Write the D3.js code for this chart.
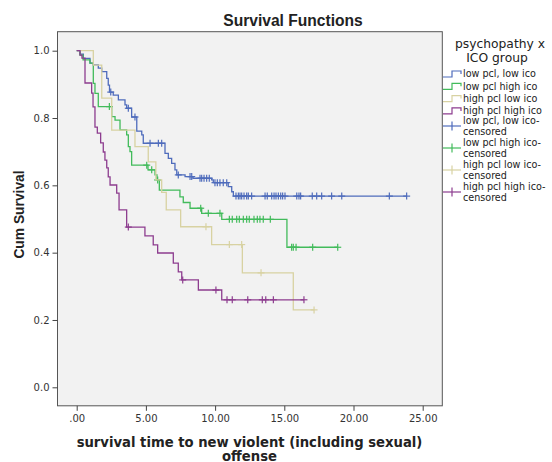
<!DOCTYPE html>
<html><head><meta charset="utf-8">
<script src="https://cdn.jsdelivr.net/npm/d3@7"></script>
<style>body{margin:0;background:#fff}svg{display:block}</style>
</head><body><svg id="c" width="552" height="462" font-family="DejaVu Sans"></svg>
<script>
const groupNames = ["low pcl, low ico","low pcl high ico","high pcl low ico","high pcl high ico"];
const censoredNames = ["low pcl, low ico-","low pcl high ico-","high pcl low ico-","high pcl high ico-"];
const groupColors = ["#4f6cbc","#42bb5b","#d8d2a2","#8d3d8f"];
const xTickValues = [0,5,10,15,20,25];
const xTickLabels = [".00","5.00","10.00","15.00","20.00","25.00"];
const yTickValues = [0,0.2,0.4,0.6,0.8,1.0];
const yTickLabels = ["0.0","0.2","0.4","0.6","0.8","1.0"];

const blueTimes = [0.24,0.48,0.96,1.20,1.56,1.81,2.17,2.28,2.37,2.64,3.01,3.49,3.61,3.97,4.34,4.70,4.81,6.38,6.62,6.86,7.10,7.23,7.83,8.40,9.75,9.87,10.95,11.20,11.32];
const blueSurv = [0.990,0.977,0.963,0.958,0.948,0.938,0.918,0.898,0.877,0.868,0.854,0.839,0.829,0.803,0.761,0.750,0.725,0.695,0.680,0.665,0.646,0.631,0.626,0.621,0.616,0.608,0.596,0.581,0.568];
const blueCens = [2.46,3.73,4.21,5.30,5.90,6.14,7.34,8.19,8.31,8.91,9.03,9.20,9.39,9.58,9.99,10.16,10.35,10.59,10.84,11.51,11.68,11.80,11.92,12.09,12.28,12.40,12.64,13.61,13.77,14.09,14.26,14.40,14.57,14.74,14.88,15.05,15.90,16.06,16.18,17.02,17.34,17.70,18.42,19.15,22.59,23.84];

const greenTimes = [0.24,0.46,0.96,1.20,1.32,1.56,2.53,2.77,3.13,3.61,3.73,3.85,3.97,5.15,5.66,5.80,5.97,7.46,7.70,8.19,9.03,10.48,15.19];
const greenSurv = [0.987,0.973,0.963,0.903,0.873,0.834,0.804,0.794,0.765,0.750,0.715,0.700,0.660,0.646,0.631,0.616,0.586,0.566,0.549,0.532,0.517,0.499,0.416];
const greenCens = [2.36,5.06,5.42,5.85,8.96,9.51,10.35,11.03,11.24,11.56,11.75,12.04,12.28,12.47,12.81,13.05,13.24,13.48,13.99,15.53,15.65,15.85,17.05,18.86];

const beigeTimes = [1.20,1.81,2.53,4.21,5.17,5.72,6.14,6.47,7.51,9.75,11.97,15.65];
const beigeSurv = [0.957,0.859,0.764,0.715,0.670,0.616,0.579,0.527,0.477,0.424,0.340,0.230];
const beigeCens = [9.34,11.03,11.92,13.32,17.15];

const purpleTimes = [0.24,0.38,0.60,1.08,1.18,1.32,1.49,1.73,1.92,2.04,2.17,2.28,2.41,2.89,3.06,3.61,4.93,5.53,5.85,6.98,7.34,7.59,8.79,10.48];
const purpleSurv = [0.987,0.978,0.904,0.874,0.833,0.773,0.755,0.726,0.699,0.675,0.652,0.625,0.601,0.577,0.527,0.476,0.450,0.423,0.399,0.369,0.343,0.319,0.289,0.260];
const purpleCens = [3.73,7.66,10.06,10.86,11.24,12.36,13.41,13.66,14.21,16.42];

const groups = [
  {times: blueTimes, surv: blueSurv, cens: blueCens},
  {times: greenTimes, surv: greenSurv, cens: greenCens},
  {times: beigeTimes, surv: beigeSurv, cens: beigeCens},
  {times: purpleTimes, surv: purpleSurv, cens: purpleCens}
];

const svg = d3.select("#c");
const plot = {l:57.5, r:442.3, t:31.7, b:405.8};
const x = d3.scaleLinear().domain([0,25]).range([76.7,422.7]);
const y = d3.scaleLinear().domain([0,1]).range([387.3,50.7]);

svg.append("rect").attr("x",plot.l).attr("y",plot.t).attr("width",plot.r-plot.l).attr("height",plot.b-plot.t)
  .attr("fill","#f2f2f2").attr("stroke","#555").attr("stroke-width",1);

// axes
const xAxis = d3.axisBottom(x).tickValues(xTickValues).tickSize(5).tickPadding(4)
  .tickFormat((d,i)=>xTickLabels[i]);
const gx = svg.append("g").attr("transform",`translate(0,${plot.b})`).call(xAxis);
gx.select(".domain").remove();
gx.selectAll("line").attr("stroke","#444");
gx.selectAll("text").attr("font-size",10).attr("fill","#333").style("font-family","DejaVu Sans");

const yAxis = d3.axisLeft(y).tickValues(yTickValues).tickSize(5).tickPadding(3)
  .tickFormat((d,i)=>yTickLabels[i]);
const gy = svg.append("g").attr("transform",`translate(${plot.l},0)`).call(yAxis);
gy.select(".domain").remove();
gy.selectAll("line").attr("stroke","#444");
gy.selectAll("text").attr("font-size",10).attr("fill","#333").style("font-family","DejaVu Sans");

function survAt(g,t){let s=1;for(let i=0;i<g.times.length;i++){if(g.times[i]<=t)s=g.surv[i];}return s;}

const line = d3.line().x(d=>x(d[0])).y(d=>y(d[1])).curve(d3.curveStepAfter);
groups.forEach((g,gi)=>{
  const end = Math.max(d3.max(g.cens), d3.max(g.times));
  const pts = [[0,1]].concat(g.times.map((t,i)=>[t,g.surv[i]]));
  pts.push([end, g.surv[g.surv.length-1]]);
  svg.append("path").attr("d",line(pts)).attr("fill","none")
    .attr("stroke",groupColors[gi]).attr("stroke-width",1.3);
  const cg = svg.append("g").attr("stroke",groupColors[gi]).attr("stroke-width",1.2);
  g.cens.forEach(t=>{
    const cx=x(t), cy=y(survAt(g,t));
    cg.append("line").attr("x1",cx-3.5).attr("x2",cx+3.5).attr("y1",cy).attr("y2",cy);
    cg.append("line").attr("x1",cx).attr("x2",cx).attr("y1",cy-3.5).attr("y2",cy+3.5);
  });
});

// titles
svg.append("text").attr("x",293).attr("y",26).attr("text-anchor","middle")
  .style("font-family","Liberation Sans").attr("font-size",15.6).attr("font-weight","bold").attr("fill","#222").text("Survival Functions");
svg.append("text").attr("transform","translate(19,214.5) rotate(-90)").attr("text-anchor","middle").attr("dy","0.35em")
  .style("font-family","Liberation Sans").attr("font-size",13.8).attr("font-weight","bold").attr("fill","#222").text("Cum Survival");
svg.append("text").attr("x",249.5).attr("y",447).attr("text-anchor","middle")
  .style("font-family","DejaVu Sans").attr("font-size",13.2).attr("font-weight","bold").attr("fill","#222").text("survival time to new violent (including sexual)");
svg.append("text").attr("x",249.5).attr("y",460.5).attr("text-anchor","middle")
  .style("font-family","DejaVu Sans").attr("font-size",13.2).attr("font-weight","bold").attr("fill","#222").text("offense");

// legend
const lg = svg.append("g").style("font-family","DejaVu Sans");
lg.append("text").attr("x",500).attr("y",44).attr("text-anchor","middle").attr("dy","0.35em")
  .attr("font-size",12.3).attr("fill","#222").text("psychopathy x");
lg.append("text").attr("x",497).attr("y",57.5).attr("text-anchor","middle").attr("dy","0.35em")
  .attr("font-size",12.3).attr("fill","#222").text("ICO group");
const stepY = [74,86.3,98.6,110.9];
groupNames.forEach((n,i)=>{
  const cy = stepY[i];
  lg.append("path").attr("d",`M443,${cy+3}H452V${cy-3}H461V${cy}`).attr("fill","none")
    .attr("stroke",groupColors[i]).attr("stroke-width",1.2);
  lg.append("text").attr("x",463).attr("y",cy).attr("dy","0.35em").attr("font-size",9.6).attr("fill","#222").text(n);
});
const censY = [126,148,170,192];
censoredNames.forEach((n,i)=>{
  const cy = censY[i];
  lg.append("line").attr("x1",443).attr("x2",461).attr("y1",cy).attr("y2",cy).attr("stroke",groupColors[i]).attr("stroke-width",1.2);
  lg.append("line").attr("x1",452).attr("x2",452).attr("y1",cy-4.5).attr("y2",cy+4.5).attr("stroke",groupColors[i]).attr("stroke-width",1.2);
  lg.append("text").attr("x",463).attr("y",cy-5.2).attr("dy","0.35em").attr("font-size",9.6).attr("fill","#222").text(n);
  lg.append("text").attr("x",463).attr("y",cy+5.2).attr("dy","0.35em").attr("font-size",9.6).attr("fill","#222").text("censored");
});
</script></body></html>
